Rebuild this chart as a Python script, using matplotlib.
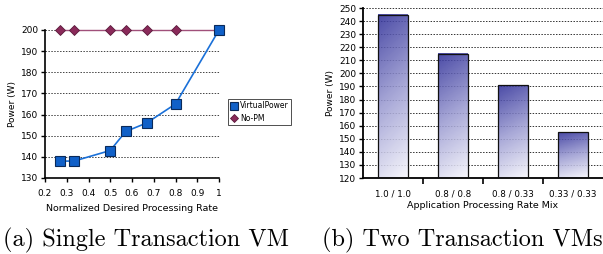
import numpy as np
import matplotlib
matplotlib.use("Agg")
import matplotlib.pyplot as plt
from matplotlib.colors import LinearSegmentedColormap

# Data
rate_x = [0.267, 0.333, 0.5, 0.571, 0.667, 0.8, 1.0]
virtualpower = [138, 138, 143, 152, 156, 165, 200]
nopm = [200, 200, 200, 200, 200, 200, 200]
left_yticks = [130, 140, 150, 160, 170, 180, 190, 200]
left_xticks = [0.2, 0.3, 0.4, 0.5, 0.6, 0.7, 0.8, 0.9, 1.0]
left_xticklabels = ["0.2", "0.3", "0.4", "0.5", "0.6", "0.7", "0.8", "0.9", "1"]

mix_labels = ["1.0 / 1.0", "0.8 / 0.8", "0.8 / 0.33", "0.33 / 0.33"]
mix_power = [245, 215, 191, 155]
right_yticks = list(range(120, 251, 10))

fig = plt.figure(figsize=(6.03, 2.54), dpi=100)

# ---- Left panel
ax1 = fig.add_axes([45/603, 1-178/254, 174/603, 148/254])
ax1.plot(rate_x, nopm, color="#a0507a", lw=1.0, marker="D", ms=5,
         mfc="#8a2a5a", mec="#5a1a3a", mew=0.6, label="No-PM", zorder=3)
ax1.plot(rate_x, virtualpower, color="#1a70d8", lw=1.2, marker="s", ms=7,
         mfc="#1060c8", mec="#0a2a5a", mew=0.8, label="VirtualPower", zorder=4)
ax1.set_xlim(0.2, 1.0)
ax1.set_ylim(130, 200)
ax1.set_xticks(left_xticks)
ax1.set_xticklabels(left_xticklabels)
ax1.set_yticks(left_yticks)
for y in left_yticks[1:]:
    ax1.axhline(y, color="#444444", lw=0.7, ls=(0, (1.5, 1.5)), zorder=1)
for s in ["top", "right"]:
    ax1.spines[s].set_visible(False)
for s in ["left", "bottom"]:
    ax1.spines[s].set_linewidth(1.2)
ax1.tick_params(axis="x", labelsize=6.5, length=3, width=1, direction="out", pad=5)
ax1.tick_params(axis="y", labelsize=6.5, length=3, width=1, direction="out", pad=2)
ax1.set_ylabel("Power (W)", fontsize=6.5, labelpad=3)
ax1.set_xlabel("Normalized Desired Processing Rate", fontsize=6.8, labelpad=4)
for ln in ax1.lines:
    ln.set_clip_on(False)
h, l = ax1.get_legend_handles_labels()
leg = ax1.legend(h[::-1], l[::-1], loc="center left", bbox_to_anchor=(228/603, 1-112/254),
                 bbox_transform=fig.transFigure, fontsize=5.5, frameon=True, fancybox=False,
                 edgecolor="#222222", handlelength=0.8, handletextpad=0.4, borderpad=0.35,
                 labelspacing=0.45, borderaxespad=0, markerscale=0.75)
leg.get_frame().set_linewidth(0.7)
for lh in leg.get_lines():
    lh.set_linestyle("none")

# ---- Right panel
ax2 = fig.add_axes([363/603, 1-178/254, 240/603, 170/254])
xs = np.arange(len(mix_labels))
bars = ax2.bar(xs, mix_power, width=0.5, color="none", edgecolor="#111111", lw=0.9, zorder=3)
cmap = LinearSegmentedColormap.from_list("g", ["#f6f6fc", "#9c9cd2", "#32329a"])
for b in bars:
    x0, y0 = b.get_x(), 120
    w = b.get_width()
    top = b.get_y() + b.get_height()
    gx, gy = np.meshgrid(np.linspace(0, 1, 60), np.linspace(0, 1, 120))
    grad = 0.85 * gy + 0.15 * (1 - gx)
    ax2.imshow(grad, extent=[x0, x0 + w, y0, top], origin="lower", aspect="auto",
               cmap=cmap, vmin=0, vmax=1, zorder=2, interpolation="bilinear",
               clip_path=b, clip_on=True, alpha=0.88)
ax2.set_xlim(-0.5, 3.5)
ax2.set_ylim(120, 250)
ax2.set_yticks(right_yticks)
for y in right_yticks[1:]:
    ax2.axhline(y, color="#333333", lw=0.7, ls=(0, (1.5, 1.5)), zorder=1)
ax2.set_xticks(xs)
ax2.set_xticklabels(mix_labels)
ax2.set_xticks([0.5, 1.5, 2.5], minor=True)
ax2.tick_params(axis="x", which="major", length=0, labelsize=6.3, pad=8)
ax2.tick_params(axis="x", which="minor", length=4, width=1.2, direction="out")
ax2.tick_params(axis="y", labelsize=6.5, length=3, width=1, direction="out", pad=2)
for s in ["top", "right"]:
    ax2.spines[s].set_visible(False)
for s in ["left", "bottom"]:
    ax2.spines[s].set_linewidth(1.3)
ax2.set_ylabel("Power (W)", fontsize=6.5, labelpad=3)
ax2.set_xlabel("Application Processing Rate Mix", fontsize=6.8, labelpad=2)

# ---- Captions
cap = dict(fontsize=17.5, family="cmr10", va="center")
fig.text(3/603, 1-240/254, "(a) Single Transaction VM", ha="left", **cap)
fig.text(322/603, 1-240/254, "(b) Two Transaction VMs", ha="left", **cap)

fig.savefig("out.png", dpi=100)
